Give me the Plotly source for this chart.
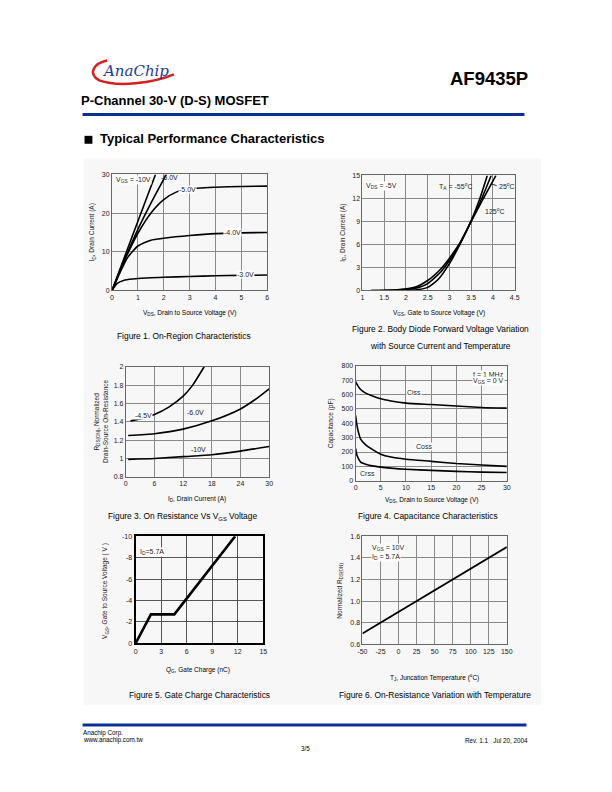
import plotly.graph_objects as go

W, H = 612, 792
FONT = "Arial, Liberation Sans, sans-serif"

# ---------------- data ----------------
# Fig 1: On-region characteristics (VDS, ID) per VGS
f1_vds_10 = [0, 0.5, 1.0, 1.68]
f1_id_10 = [0, 9.0, 17.9, 30]
f1_vds_6 = [0, 0.5, 1.0, 1.5, 2.1]
f1_id_6 = [0, 8.3, 15.8, 22.5, 30]
f1_vds_5 = [0, 0.5, 1.0, 1.5, 2.0, 2.5, 3.0, 4.0, 5.0, 6.0]
f1_id_5 = [0, 8.0, 14.8, 20.0, 23.5, 25.5, 26.3, 26.7, 26.9, 27.0]
f1_vds_4 = [0, 0.3, 0.6, 1.0, 1.5, 2.0, 3.0, 4.0, 5.0, 6.0]
f1_id_4 = [0, 4.5, 8.5, 11.5, 13.0, 13.5, 14.2, 14.7, 14.9, 15.0]
f1_vds_3 = [0, 0.2, 0.5, 1.0, 2.0, 3.0, 4.0, 5.0, 6.0]
f1_id_3 = [0, 1.8, 2.7, 3.1, 3.4, 3.6, 3.8, 3.9, 4.0]

# Fig 2: transfer characteristics (VGS, ID) per temperature
f2_vgs_125 = [1.2, 1.8, 2.2, 2.5, 2.8, 3.0, 3.25, 3.5, 3.75, 4.07]
f2_id_125 = [0, 0.1, 0.4, 1.3, 2.8, 4.2, 6.3, 9.0, 11.7, 15.0]
f2_vgs_25 = [1.2, 2.0, 2.3, 2.5, 2.8, 3.0, 3.25, 3.5, 3.75, 3.96]
f2_id_25 = [0, 0.1, 0.4, 0.9, 2.4, 3.9, 6.2, 9.0, 12.1, 15.0]
f2_vgs_m55 = [1.5, 2.2, 2.5, 2.75, 3.0, 3.25, 3.5, 3.7, 3.87]
f2_id_m55 = [0, 0.05, 0.4, 1.5, 3.5, 6.1, 9.1, 12.0, 15.0]

# Fig 3: normalized on-resistance vs ID per VGS
f3_id_45 = [1, 3, 6, 9, 12, 14, 16.4]
f3_r_45 = [1.41, 1.43, 1.48, 1.56, 1.68, 1.80, 2.0]
f3_id_6 = [0.5, 6, 12, 18, 24, 27, 30]
f3_r_6 = [1.25, 1.27, 1.32, 1.41, 1.54, 1.64, 1.76]
f3_id_10 = [0.5, 6, 12, 18, 24, 30]
f3_r_10 = [0.99, 1.0, 1.02, 1.04, 1.08, 1.13]

# Fig 4: capacitance vs VDS
f4_vds = [0, 0.3, 0.7, 1, 2, 3, 5, 7, 10, 15, 20, 25, 30]
f4_ciss = [690, 670, 648, 635, 610, 595, 570, 555, 540, 530, 520, 510, 505]
f4_coss = [455, 380, 320, 290, 250, 225, 185, 165, 150, 135, 120, 110, 100]
f4_crss = [225, 175, 145, 130, 115, 105, 95, 88, 80, 72, 65, 60, 57]

# Fig 5: gate charge
f5_qg = [0, 1.8, 4.55, 11.7]
f5_vgs = [0, -2.7, -2.7, -10]
f5_yticks = [0, -2, -4, -6, -8, -10]
f5_ylabels = ["0", "-2", "-4", "-6", "-8", "-10"]

# Fig 6: normalized RDS(on) vs TJ
f6_tj = [-50, -25, 0, 25, 50, 75, 100, 125, 150]
f6_r = [0.70, 0.80, 0.90, 1.00, 1.10, 1.20, 1.30, 1.40, 1.50]
f6_xticks = [-50, -25, 0, 25, 50, 75, 100, 125, 150]
f6_xlabels = ["-50", "-25", "0", "25", "50", "75", "100", "125", "150"]


def px(x):
    return x / W


def py(y):
    return 1 - y / H


fig = go.Figure()
shapes = []
annotations = []

# background panel
shapes.append(dict(type="rect", xref="paper", yref="paper", x0=px(80), x1=px(546),
                   y0=py(707), y1=py(156), fillcolor="#f7f7f7", line=dict(width=0), layer="below"))

# header / footer lines
shapes.append(dict(type="line", xref="paper", yref="paper", x0=px(79), x1=px(529),
                   y0=py(111.5), y1=py(111.5), line=dict(color="#0a2f96", width=3)))
shapes.append(dict(type="line", xref="paper", yref="paper", x0=px(79), x1=px(531),
                   y0=py(727.5), y1=py(727.5), line=dict(color="#0a2f96", width=3)))


def pth(pts):
    s = "M %f %f" % (px(pts[0][0]), py(pts[0][1]))
    for i in range(1, len(pts), 3):
        a, b, c = pts[i], pts[i + 1], pts[i + 2]
        s += " C %f %f %f %f %f %f" % (px(a[0]), py(a[1]), px(b[0]), py(b[1]), px(c[0]), py(c[1]))
    return s


# logo swoosh
shapes.append(dict(type="path", xref="paper", yref="paper",
                   path=pth([(104, 57), (90, 60), (84, 70), (96, 77), (115, 84), (150, 80), (172, 71)]),
                   line=dict(color="#d62020", width=2.5)))
# square bullet
shapes.append(dict(type="rect", xref="paper", yref="paper", x0=px(81), x1=px(89),
                   y0=py(141), y1=py(133), fillcolor="black", line=dict(width=0)))


def txt(x, y, t, size=7, anchor="left", bold=False, color="black", italic=False, family=FONT):
    if bold:
        t = "<b>" + t + "</b>"
    if italic:
        t = "<i>" + t + "</i>"
    annotations.append(dict(xref="paper", yref="paper", x=px(x), y=py(y), text=t, showarrow=False,
                            xanchor=anchor, yanchor="middle", font=dict(family=family, size=size, color=color)))


def vtxt(x, y, t, size=6.5):
    annotations.append(dict(xref="paper", yref="paper", x=px(x), y=py(y), text=t, textangle=-90,
                            showarrow=False, xanchor="center", yanchor="middle",
                            font=dict(family=FONT, size=size, color="#222")))


txt(97, 68, "AnaChip", size=15, italic=True, color="#1c3c9c", family="DejaVu Serif, serif")
txt(535, 75, "AF9435P", size=18.5, anchor="right", bold=True)
txt(75, 97.5, "P-Channel 30-V (D-S) MOSFET", size=13, bold=True)
txt(95, 135.5, "Typical Performance Characteristics", size=13, bold=True)

txt(77, 736, "Anachip Corp.", size=6.3)
txt(77, 743, "www.anachip.com.tw", size=6.3)
txt(535, 743, "Rev. 1.1   Jul 20, 2004", size=6.3, anchor="right")
txt(306, 751.5, "3/5", size=6.3, anchor="center")

# ---------------- axes ----------------
layout_axes = {}


def add_axes(i, left, right, top, bottom, xr, xd, yr, yd, yfmt=None, thick=False, gridc="#8a8a8a"):
    xn = "xaxis" if i == 1 else "xaxis%d" % i
    yn = "yaxis" if i == 1 else "yaxis%d" % i
    xa = "x" if i == 1 else "x%d" % i
    ya = "y" if i == 1 else "y%d" % i
    lc = "black" if thick else "#666666"
    lw = 2.2 if thick else 1
    tf = dict(family=FONT, size=7, color="#222")
    layout_axes[xn] = dict(domain=[px(left), px(right)], range=xr, dtick=xd, tick0=min(xr),
                           anchor=ya, showgrid=True, gridcolor=gridc, gridwidth=1, zeroline=False,
                           showline=True, mirror=True, linecolor=lc, linewidth=lw, ticks="",
                           tickfont=tf, fixedrange=True)
    layout_axes[yn] = dict(domain=[py(bottom), py(top)], range=yr, dtick=yd, tick0=min(yr), anchor=xa,
                           showgrid=True, gridcolor=gridc, gridwidth=1, zeroline=False, showline=True,
                           mirror=True, linecolor=lc, linewidth=lw, ticks="", tickfont=tf, fixedrange=True)
    if yfmt:
        layout_axes[yn]["tickformat"] = yfmt
    return xa, ya, xn, yn


def line(xa, ya, x, y, w=1.6):
    fig.add_trace(go.Scatter(x=x, y=y, mode="lines", xaxis=xa, yaxis=ya, showlegend=False,
                             line=dict(color="black", width=w, shape="spline", smoothing=0.6)))


def lab(xa, ya, x, y, t, anchor="left", bg="white", size=7):
    annotations.append(dict(xref=xa, yref=ya, x=x, y=y, text=t, showarrow=False, xanchor=anchor,
                            yanchor="middle", bgcolor=bg, borderpad=0,
                            font=dict(family=FONT, size=size, color="#222")))


CAP = 8.4

# Fig 1
xa, ya, _, _ = add_axes(1, 109, 267, 172, 289, [0, 6], 1, [0, 30], 10)
line(xa, ya, f1_vds_10, f1_id_10)
line(xa, ya, f1_vds_6, f1_id_6)
line(xa, ya, f1_vds_5, f1_id_5)
line(xa, ya, f1_vds_4, f1_id_4)
line(xa, ya, f1_vds_3, f1_id_3)
lab(xa, ya, 0.1, 28.6, "V<sub>GS</sub> = -10V")
lab(xa, ya, 1.85, 29.3, "-6.0V", bg="rgba(0,0,0,0)")
lab(xa, ya, 2.55, 26.0, "-5.0V")
lab(xa, ya, 4.3, 15.0, "-4.0V")
lab(xa, ya, 4.8, 4.0, "-3.0V")
txt(188, 312, "V<sub>DS</sub>, Drain to Source Voltage (V)", size=6.5, anchor="center")
vtxt(89, 230, "I<sub>D</sub>, Drain Current (A)")
txt(182, 335, "Figure 1. On-Region Characteristics", size=CAP, anchor="center")

# Fig 2
xa, ya, _, _ = add_axes(2, 364, 519, 173, 289, [1, 4.5], 0.5, [0, 15], 3)
line(xa, ya, f2_vgs_125, f2_id_125)
line(xa, ya, f2_vgs_25, f2_id_25)
line(xa, ya, f2_vgs_m55, f2_id_m55)
lab(xa, ya, 1.05, 13.6, "V<sub>DS</sub> = -5V")
lab(xa, ya, 2.73, 13.6, "T<sub>A</sub> = -55<sup>o</sup>C", bg="rgba(0,0,0,0)")
lab(xa, ya, 4.12, 13.6, "25<sup>o</sup>C", bg="rgba(0,0,0,0)")
lab(xa, ya, 3.8, 10.4, "125<sup>o</sup>C", bg="rgba(0,0,0,0)")
annotations.append(dict(xref=xa, yref=ya, x=3.97, y=13.9, ax=4.12, ay=13.6, axref=xa, ayref=ya,
                        text="", showarrow=True, arrowhead=0, arrowwidth=0.8, arrowcolor="black"))
txt(442, 312, "V<sub>GS</sub>, Gate to Source Voltage (V)", size=6.5, anchor="center")
vtxt(344, 231, "I<sub>D</sub>, Drain Current (A)")
txt(443, 328, "Figure 2. Body Diode Forward Voltage Variation", size=CAP, anchor="center")
txt(443, 345, "with Source Current and Temperature", size=CAP, anchor="center")

# Fig 3
xa, ya, _, _ = add_axes(3, 123, 269, 366, 477, [0, 30], 6, [0.8, 2.0], 0.2)
line(xa, ya, f3_id_45, f3_r_45)
line(xa, ya, f3_id_6, f3_r_6)
line(xa, ya, f3_id_10, f3_r_10)
lab(xa, ya, 1.8, 1.465, "-4.5V")
lab(xa, ya, 12.7, 1.505, "-6.0V", bg="rgba(0,0,0,0)")
lab(xa, ya, 13.4, 1.1, "-10V", bg="rgba(0,0,0,0)")
txt(196, 499, "I<sub>D</sub>, Drain Current (A)", size=6.5, anchor="center")
vtxt(94, 421, "R<sub>DS(ON)</sub>, Normalized")
vtxt(102.5, 421, "Drain-Source On-Resistance")
txt(181, 517, "Figure 3. On Resistance Vs V<sub>GS</sub> Voltage", size=CAP, anchor="center")

# Fig 4
xa, ya, _, _ = add_axes(4, 357, 511, 365, 481, [0, 30], 5, [0, 800], 100)
line(xa, ya, f4_vds, f4_ciss)
line(xa, ya, f4_vds, f4_coss)
line(xa, ya, f4_vds, f4_crss)
lab(xa, ya, 10.0, 611, "Ciss")
lab(xa, ya, 11.7, 237, "Coss")
lab(xa, ya, 0.65, 53, "Crss")
lab(xa, ya, 29.7, 738, "f = 1 MHz", anchor="right")
lab(xa, ya, 29.7, 697, "V<sub>GS</sub> = 0 V", anchor="right")
txt(434, 500, "V<sub>DS</sub>, Drain to Source Voltage (V)", size=6.5, anchor="center")
vtxt(332, 423, "Capacitance (pF)")
txt(431, 517, "Figure 4. Capacitance Characteristics", size=CAP, anchor="center")

# Fig 5
xa, ya, xn, yn = add_axes(5, 133, 263, 537, 645, [0, 15], 3, [0, -10], 2, thick=True, gridc="#555555")
layout_axes[yn].update(tickmode="array", tickvals=f5_yticks, ticktext=f5_ylabels)
fig.add_trace(go.Scatter(x=f5_qg, y=f5_vgs, mode="lines", xaxis=xa, yaxis=ya, showlegend=False,
                         line=dict(color="black", width=2.6)))
lab(xa, ya, 0.35, -8.5, "I<sub>D</sub>=5.7A")
txt(197, 672, "Q<sub>G</sub>, Gate Charge (nC)", size=6.5, anchor="center")
vtxt(102, 592, "V<sub>GS</sub>, Gate to Source Voltage ( V )")
txt(198, 697, "Figure 5. Gate Charge Characteristics", size=CAP, anchor="center")

# Fig 6
xa, ya, xn, yn = add_axes(6, 364, 511, 537, 646, [-50, 150], 25, [0.6, 1.6], 0.2, yfmt=".1f")
layout_axes[xn].update(tickmode="array", tickvals=f6_xticks, ticktext=f6_xlabels)
fig.add_trace(go.Scatter(x=f6_tj, y=f6_r, mode="lines", xaxis=xa, yaxis=ya, showlegend=False,
                         line=dict(color="black", width=1.8)))
lab(xa, ya, -38, 1.493, "V<sub>GS</sub> = 10V")
lab(xa, ya, -38, 1.41, "I<sub>D</sub> = 5.7A")
txt(437, 680, "T<sub>J</sub>, Juncation Temperature (<sup>o</sup>C)", size=6.5, anchor="center")
vtxt(341, 592, "Normalized R<sub>DS(ON)</sub>")
txt(438, 697, "Figure 6. On-Resistance Variation with Temperature", size=CAP, anchor="center")

fig.update_layout(width=W, height=H, margin=dict(l=0, r=0, t=0, b=0), paper_bgcolor="white",
                  plot_bgcolor="white", shapes=shapes, annotations=annotations, showlegend=False,
                  font=dict(family=FONT), **layout_axes)

fig.write_html("out.html", config={"displayModeBar": False},
               post_script="document.body.style.margin='0';document.body.style.overflow='hidden';")
